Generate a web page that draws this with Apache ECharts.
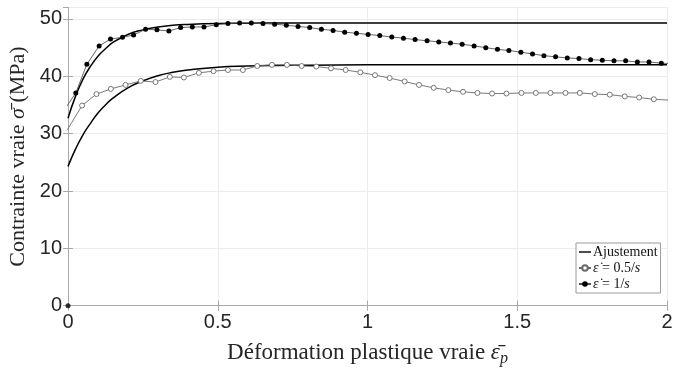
<!DOCTYPE html>
<html>
<head>
<meta charset="utf-8">
<script src="https://cdn.jsdelivr.net/npm/echarts@6/dist/echarts.min.js"></script>
<style>
  html, body { margin: 0; padding: 0; background: #fff; }
  #main { width: 675px; height: 368px; }
</style>
</head>
<body>
<div id="main"></div>
<script>
// courbes d'ajustement
var fitX    = [0, 0.025, 0.05, 0.075, 0.1, 0.125, 0.15, 0.2, 0.25, 0.3, 0.35, 0.4, 0.5, 0.6, 0.7, 0.8, 1.0, 1.5, 2.0];
var fitHigh = [32.7, 36.5, 39.5, 41.75, 43.5, 44.8, 45.9, 47.3, 48.1, 48.6, 48.9, 49.05, 49.2, 49.25, 49.3, 49.3, 49.3, 49.3, 49.3];
var fitLow  = [24.3, 27.3, 29.8, 31.8, 33.6, 35.0, 36.2, 38.0, 39.2, 40.1, 40.7, 41.1, 41.6, 41.8, 41.9, 41.95, 42.0, 42.0, 42.0];

// essai a 0.5/s (cercles ouverts)
var lowX = [-0.002, 0.047, 0.095, 0.143, 0.192, 0.243, 0.292, 0.340, 0.387, 0.437, 0.486, 0.534, 0.584, 0.632,
            0.681, 0.731, 0.780, 0.829, 0.878, 0.927, 0.976, 1.025, 1.074, 1.124, 1.172, 1.221, 1.270, 1.319,
            1.367, 1.416, 1.464, 1.514, 1.562, 1.611, 1.661, 1.709, 1.759, 1.809, 1.859, 1.907, 1.956, 2.005];
var lowY = [30.7, 34.9, 36.9, 37.8, 38.5, 39.2, 39.0, 39.9, 39.8, 40.6, 40.9, 41.1, 41.1, 41.8,
            42.0, 42.0, 41.8, 41.7, 41.4, 41.1, 40.7, 40.2, 39.7, 39.1, 38.5, 38.0, 37.6, 37.3,
            37.1, 37.0, 37.0, 37.1, 37.1, 37.1, 37.1, 37.1, 36.9, 36.8, 36.5, 36.3, 36.0, 35.85];

// essai a 1/s (points pleins)
var highX = [-0.013, 0.026, 0.063, 0.104, 0.142, 0.182, 0.219, 0.259, 0.297, 0.337, 0.376, 0.415, 0.454, 0.495,
             0.534, 0.573, 0.612, 0.651, 0.690, 0.729, 0.768, 0.807, 0.846, 0.885, 0.924, 0.963, 1.002, 1.041,
             1.081, 1.120, 1.159, 1.199, 1.238, 1.277, 1.316, 1.356, 1.395, 1.434, 1.472, 1.512, 1.551, 1.589,
             1.628, 1.667, 1.706, 1.745, 1.784, 1.823, 1.862, 1.901, 1.940, 1.981, 2.020];
var highY = [34.1, 37.1, 42.1, 45.3, 46.5, 46.8, 47.2, 48.2, 48.1, 47.9, 48.5, 48.6, 48.6, 49.0,
             49.2, 49.3, 49.3, 49.2, 49.1, 48.9, 48.7, 48.5, 48.2, 48.0, 47.7, 47.5, 47.3, 47.1,
             46.85, 46.65, 46.4, 46.2, 46.0, 45.8, 45.6, 45.3, 45.0, 44.7, 44.5, 44.2, 43.9, 43.6,
             43.4, 43.2, 43.1, 42.9, 42.8, 42.7, 42.7, 42.5, 42.5, 42.3, 42.2];
var originPt = [[0, 0]];

function pairs(xs, ys) {
	var out = [];
	for (var i = 0; i < xs.length; i++) out.push([xs[i], ys[i]]);
	return out;
}

var myChart = echarts.init(document.getElementById('main'));
var axisGray = '#a8a8a8';
var txt = '#262626';
var serif = 'Liberation Serif';

option = {
	animation: false,
	grid: { left: 68, right: 8, top: 7.5, bottom: 62.3, outerBoundsMode: 'none' },
	legend: {
		left: 576, top: 243,
		orient: 'vertical',
		data: [
			{ name: 'Ajustement', icon: 'path://M0,0 L12,0 L12,1.4 L0,1.4 Z' },
			{ name: 'r05' },
			{ name: 'r1' }
		],
		itemWidth: 12, itemHeight: 7, itemGap: 2,
		padding: [2, 3, 2, 2],
		backgroundColor: '#fff',
		borderColor: '#9a9a9a', borderWidth: 1, borderRadius: 0,
		textStyle: {
			fontFamily: serif, fontSize: 14, color: '#111', padding: [0, 0, 0, -3],
			rich: { i: { fontFamily: serif, fontStyle: 'italic', fontSize: 14 } }
		},
		formatter: function (n) {
			if (n == 'r05') return '{i|ε̇} = 0.5/{i|s}';
			if (n == 'r1') return '{i|ε̇} = 1/{i|s}';
			return n;
		}
	},
	xAxis: [{
		type: 'value', min: 0, max: 2, interval: 0.5,
		name: '{n|Déformation plastique vraie }{i|ε̄}{s|p}',
		nameLocation: 'middle', nameGap: 33,
		nameTextStyle: {
			fontFamily: serif, fontSize: 23, color: txt,
			rich: {
				n: { fontFamily: serif, fontSize: 23, color: txt },
				i: { fontFamily: serif, fontSize: 23, color: txt, fontStyle: 'italic' },
				s: { fontFamily: serif, fontSize: 16, color: txt, fontStyle: 'italic', padding: [12, 0, 0, 0] }
			}
		},
		axisLine: { lineStyle: { color: axisGray } },
		axisTick: { inside: true, length: 5, lineStyle: { color: axisGray } },
		axisLabel: { fontFamily: 'Liberation Sans', fontSize: 20, color: txt, margin: 7 },
		splitLine: { show: true, lineStyle: { color: '#ececec' } }
	}, {
		type: 'value', min: 0, max: 2, interval: 0.5, position: 'top',
		axisLine: { show: true, lineStyle: { color: axisGray } },
		axisTick: { inside: true, length: 5, lineStyle: { color: axisGray } },
		axisLabel: { show: false }, splitLine: { show: false }
	}],
	yAxis: [{
		type: 'value', min: 0, max: 52, interval: 10,
		name: '{n|Contrainte vraie }{i|σ̄}{n| (MPa)}',
		nameLocation: 'middle', nameGap: 28,
		nameTextStyle: {
			fontFamily: serif, fontSize: 22, color: txt,
			rich: {
				n: { fontFamily: serif, fontSize: 22, color: txt },
				i: { fontFamily: serif, fontSize: 22, color: txt, fontStyle: 'italic' }
			}
		},
		axisLine: { show: true, lineStyle: { color: axisGray } },
		axisTick: { show: true, inside: true, length: 5, lineStyle: { color: axisGray } },
		axisLabel: { fontFamily: 'Liberation Sans', fontSize: 20, color: txt, margin: 6, showMaxLabel: false },
		splitLine: { show: true, lineStyle: { color: '#ececec' } }
	}, {
		type: 'value', min: 0, max: 52, interval: 10, position: 'right',
		axisLine: { show: true, lineStyle: { color: axisGray } },
		axisTick: { show: true, inside: true, length: 5, lineStyle: { color: axisGray } },
		axisLabel: { show: false }, splitLine: { show: false }
	}],
	series: [{
		name: 'Ajustement', type: 'line', smooth: true,
		showSymbol: false, symbol: 'none',
		lineStyle: { color: '#000', width: 1.5 },
		itemStyle: { color: '#000' },
		data: pairs(fitX, fitHigh), z: 3
	}, {
		name: 'Ajustement', type: 'line', smooth: true,
		showSymbol: false, symbol: 'none',
		lineStyle: { color: '#000', width: 1.5 },
		itemStyle: { color: '#000' },
		data: pairs(fitX, fitLow), z: 3
	}, {
		name: 'r05', type: 'line',
		symbol: 'circle', symbolSize: 5,
		lineStyle: { color: '#6a6a6a', width: 0.9 },
		itemStyle: { color: '#fff', borderColor: '#6a6a6a', borderWidth: 0.9 },
		data: pairs(lowX, lowY), z: 4
	}, {
		name: 'r1', type: 'line',
		symbol: 'circle', symbolSize: 5,
		lineStyle: { color: '#555', width: 0.9 },
		itemStyle: { color: '#000', borderColor: '#000', borderWidth: 0 },
		data: pairs(highX, highY), z: 4
	}, {
		name: 'r1', type: 'scatter', clip: false,
		symbol: 'circle', symbolSize: 5,
		itemStyle: { color: '#000' },
		data: originPt, z: 5
	}]
};
myChart.setOption(option);
</script>
</body>
</html>
